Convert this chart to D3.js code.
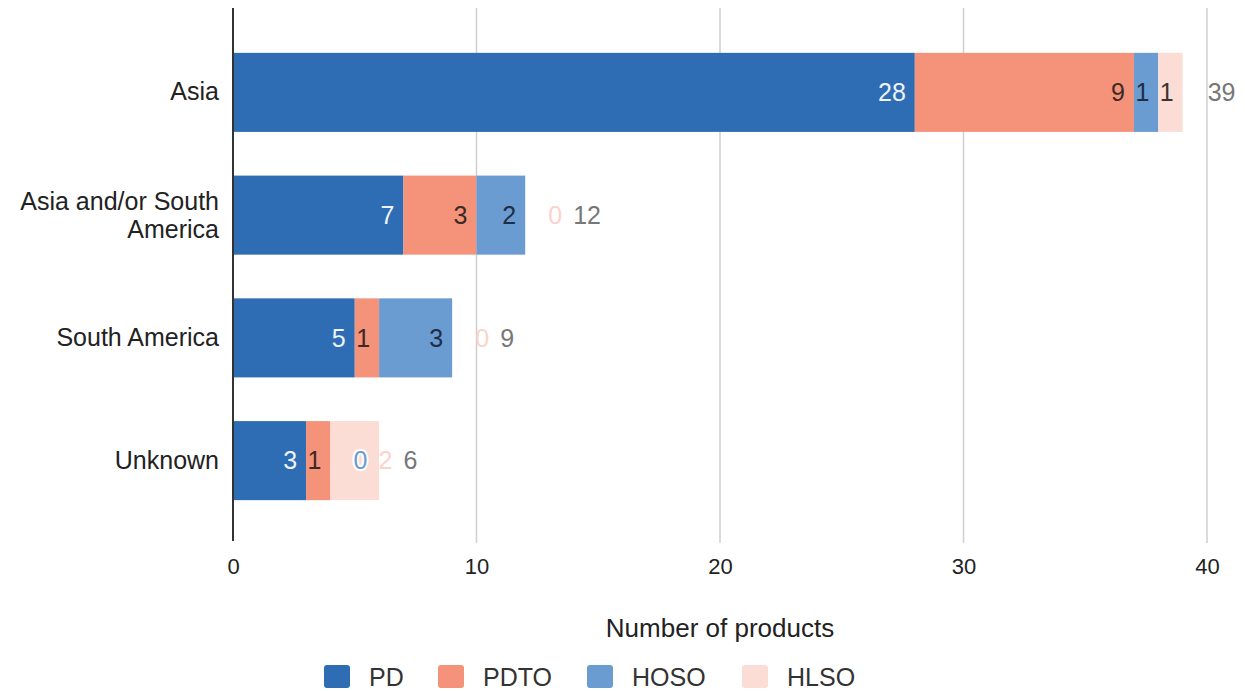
<!DOCTYPE html>
<html>
<head>
<meta charset="utf-8">
<script src="https://cdn.jsdelivr.net/npm/d3@7"></script>
<style>
  body { margin: 0; background: #fff; }
  text { font-family: "Liberation Sans", Arial, sans-serif; }
</style>
</head>
<body>
<div id="chart"></div>
<script>
const width = 1245;
const height = 691;

const categories = ['Asia', 'Asia and/or South America', 'South America', 'Unknown'];
const seriesNames = ['PD', 'PDTO', 'HOSO', 'HLSO'];
const PD = [28, 7, 5, 3];
const PDTO = [9, 3, 1, 1];
const HOSO = [1, 2, 3, 0];
const HLSO = [1, 0, 0, 2];
const xTicks = [0, 10, 20, 30, 40];

const colors = ['#2e6db4', '#f4927a', '#6a9bd1', '#fbddd5'];
const insideText = ['#eef3fb', '#3b2a25', '#1f2d48', '#3a3434'];

const rows = categories.map((c, i) => ({cat: c, PD: PD[i], PDTO: PDTO[i], HOSO: HOSO[i], HLSO: HLSO[i]}));
const stacked = d3.stack().keys(seriesNames)(rows);

const x = d3.scaleLinear().domain([0, 40]).range([233, 1207]);
const y = d3.scaleBand().domain(categories).range([31, 522]).paddingInner(0.356).paddingOuter(0.178);

const svg = d3.select('#chart').append('svg')
  .attr('width', width)
  .attr('height', height);

// gridlines
svg.append('g')
  .selectAll('line')
  .data(xTicks.slice(1))
  .join('line')
  .attr('x1', d => x(d)).attr('x2', d => x(d))
  .attr('y1', 8).attr('y2', 543)
  .attr('stroke', '#cfcfcf')
  .attr('stroke-width', 1.5);

// bars
svg.append('g')
  .selectAll('g')
  .data(stacked)
  .join('g')
  .attr('fill', (d, i) => colors[i])
  .selectAll('rect')
  .data(d => d)
  .join('rect')
  .attr('x', d => x(d[0]))
  .attr('y', d => y(d.data.cat))
  .attr('width', d => x(d[1]) - x(d[0]))
  .attr('height', y.bandwidth());

// axis line
svg.append('line')
  .attr('x1', x(0)).attr('x2', x(0))
  .attr('y1', 8).attr('y2', 541)
  .attr('stroke', '#333')
  .attr('stroke-width', 2);

// x tick labels
const xAxis = svg.append('g')
  .attr('transform', 'translate(0,558)')
  .call(d3.axisBottom(x).tickValues(xTicks).tickSize(0).tickPadding(0));
xAxis.select('.domain').remove();
xAxis.selectAll('text')
  .attr('dy', '0.71em')
  .attr('font-size', 22)
  .attr('fill', '#222');

// category labels
const yAxis = svg.append('g')
  .attr('transform', 'translate(219,0)')
  .call(d3.axisLeft(y).tickSize(0).tickPadding(0));
yAxis.select('.domain').remove();
yAxis.selectAll('text')
  .attr('font-size', 25)
  .attr('fill', '#222')
  .each(function(d) {
    const t = d3.select(this);
    if (d === 'Asia and/or South America') {
      t.text(null);
      t.append('tspan').attr('x', 0).attr('dy', '-0.22em').text('Asia and/or South');
      t.append('tspan').attr('x', 0).attr('dy', '1.12em').text('America');
    }
  });

// value labels
const labelG = svg.append('g').attr('font-size', 25);
rows.forEach((r, ri) => {
  const cy = y(r.cat) + y.bandwidth() / 2;
  let outside = false;
  let cursor = 0;
  seriesNames.forEach((s, si) => {
    const seg = stacked[si][ri];
    const v = r[s];
    const w = x(seg[1]) - x(seg[0]);
    const lw = String(v).length * 14;
    if (!outside && v > 0 && w >= lw + 8) {
      labelG.append('text')
        .attr('x', x(seg[1]) - 9)
        .attr('y', cy)
        .attr('dy', '0.35em')
        .attr('text-anchor', 'end')
        .attr('fill', insideText[si])
        .text(v);
    } else {
      if (!outside) {
        outside = true;
        cursor = x(seg[1]) + 23;
      }
      if (si === 2) {
        labelG.append('text')
          .attr('x', cursor).attr('y', cy).attr('dy', '0.35em')
          .attr('fill', 'none').attr('stroke', '#fff').attr('stroke-width', 4)
          .attr('stroke-linejoin', 'round')
          .text(v);
      }
      labelG.append('text')
        .attr('x', cursor)
        .attr('y', cy)
        .attr('dy', '0.35em')
        .attr('fill', si === 3 ? '#fbd3cb' : colors[si])
        .text(v);
      cursor += lw + 11;
    }
  });
  const total = seriesNames.reduce((a, s) => a + r[s], 0);
  const tx = outside ? cursor : x(total) + 25;
  labelG.append('text')
    .attr('x', tx)
    .attr('y', cy)
    .attr('dy', '0.35em')
    .attr('fill', '#777')
    .text(total);
});

// axis title
svg.append('text')
  .attr('x', (x(0) + x(40)) / 2)
  .attr('y', 637)
  .attr('text-anchor', 'middle')
  .attr('font-size', 26)
  .attr('fill', '#222')
  .text('Number of products');

// legend
const legendX = [324, 438, 587, 742];
const legend = svg.append('g')
  .selectAll('g')
  .data(seriesNames)
  .join('g')
  .attr('transform', (d, i) => `translate(${legendX[i]},665)`);
legend.append('rect')
  .attr('width', 26).attr('height', 23)
  .attr('rx', 3)
  .attr('fill', (d, i) => colors[i]);
legend.append('text')
  .attr('x', 45)
  .attr('y', 12)
  .attr('dy', '0.36em')
  .attr('font-size', 25)
  .attr('fill', '#333')
  .text(d => d);
</script>
</body>
</html>
